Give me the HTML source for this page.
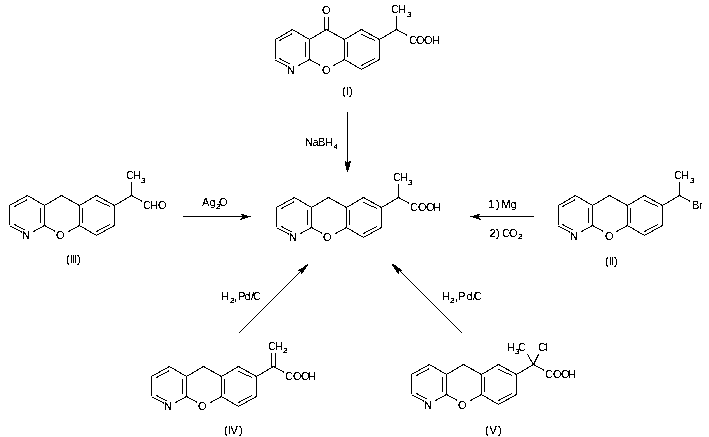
<!DOCTYPE html>
<html><head><meta charset="utf-8"><title>Reaction scheme</title><style>
html,body{margin:0;padding:0;background:#fff;width:709px;height:437px;overflow:hidden}
svg{display:block}
line{stroke:#000;stroke-width:1;shape-rendering:crispEdges}
polygon{fill:#000;stroke:none;shape-rendering:crispEdges}
text{font-family:"Liberation Sans", sans-serif;font-size:11px;fill:#000}
</style></head><body>
<svg width="709" height="437" viewBox="0 0 709 437">
<g id="bonds">
<line x1="275.50" y1="39.50" x2="292.50" y2="29.50"/>
<line x1="292.50" y1="29.50" x2="309.50" y2="39.50"/>
<line x1="309.50" y1="39.50" x2="309.50" y2="59.50"/>
<line x1="309.50" y1="59.50" x2="298.50" y2="65.50"/>
<line x1="287.50" y1="66.50" x2="275.50" y2="60.00"/>
<line x1="275.50" y1="59.00" x2="275.50" y2="39.50"/>
<line x1="279.50" y1="40.50" x2="292.50" y2="33.50"/>
<line x1="279.50" y1="58.50" x2="289.50" y2="64.00"/>
<line x1="305.50" y1="42.00" x2="305.50" y2="57.00"/>
<line x1="309.50" y1="39.50" x2="326.50" y2="29.50"/>
<line x1="326.50" y1="29.50" x2="344.50" y2="39.50"/>
<line x1="344.50" y1="39.50" x2="344.50" y2="59.50"/>
<line x1="309.50" y1="59.50" x2="320.50" y2="65.50"/>
<line x1="333.50" y1="65.50" x2="344.50" y2="59.50"/>
<line x1="344.50" y1="39.50" x2="361.50" y2="29.50"/>
<line x1="361.50" y1="29.50" x2="379.50" y2="39.50"/>
<line x1="379.50" y1="39.50" x2="379.50" y2="59.50"/>
<line x1="379.50" y1="59.50" x2="361.50" y2="69.50"/>
<line x1="361.50" y1="69.50" x2="344.50" y2="59.50"/>
<line x1="347.50" y1="42.00" x2="347.50" y2="57.00"/>
<line x1="361.50" y1="34.50" x2="375.00" y2="40.50"/>
<line x1="361.50" y1="65.50" x2="375.00" y2="58.50"/>
<line x1="324.50" y1="16.50" x2="324.50" y2="29.50"/>
<line x1="328.50" y1="16.50" x2="328.50" y2="29.50"/>
<line x1="379.50" y1="39.50" x2="396.50" y2="29.50"/>
<line x1="396.50" y1="29.50" x2="396.50" y2="15.50"/>
<line x1="396.50" y1="29.50" x2="407.50" y2="35.50"/>
<line x1="276.50" y1="207.50" x2="294.50" y2="197.50"/>
<line x1="294.50" y1="197.50" x2="311.50" y2="207.50"/>
<line x1="311.50" y1="207.50" x2="311.50" y2="227.50"/>
<line x1="311.50" y1="227.50" x2="300.50" y2="233.50"/>
<line x1="289.50" y1="234.50" x2="277.50" y2="228.00"/>
<line x1="276.50" y1="227.00" x2="276.50" y2="207.50"/>
<line x1="281.50" y1="208.50" x2="294.50" y2="201.50"/>
<line x1="281.50" y1="226.50" x2="291.50" y2="232.00"/>
<line x1="307.50" y1="210.00" x2="307.50" y2="225.00"/>
<line x1="311.50" y1="207.50" x2="328.50" y2="197.50"/>
<line x1="328.50" y1="197.50" x2="346.50" y2="207.50"/>
<line x1="346.50" y1="207.50" x2="346.50" y2="227.50"/>
<line x1="311.50" y1="227.50" x2="322.50" y2="233.50"/>
<line x1="335.50" y1="233.50" x2="346.50" y2="227.50"/>
<line x1="346.50" y1="207.50" x2="363.50" y2="197.50"/>
<line x1="363.50" y1="197.50" x2="381.50" y2="207.50"/>
<line x1="381.50" y1="207.50" x2="381.50" y2="227.50"/>
<line x1="381.50" y1="227.50" x2="363.50" y2="237.50"/>
<line x1="363.50" y1="237.50" x2="346.50" y2="227.50"/>
<line x1="349.50" y1="210.00" x2="349.50" y2="225.00"/>
<line x1="363.50" y1="202.50" x2="377.00" y2="208.50"/>
<line x1="363.50" y1="233.50" x2="377.00" y2="226.50"/>
<line x1="381.50" y1="207.50" x2="398.50" y2="197.50"/>
<line x1="398.50" y1="197.50" x2="398.50" y2="183.50"/>
<line x1="398.50" y1="197.50" x2="409.50" y2="203.50"/>
<line x1="9.50" y1="205.50" x2="27.50" y2="195.50"/>
<line x1="27.50" y1="195.50" x2="44.50" y2="205.50"/>
<line x1="44.50" y1="205.50" x2="44.50" y2="225.50"/>
<line x1="44.50" y1="225.50" x2="33.50" y2="231.50"/>
<line x1="22.50" y1="232.50" x2="10.50" y2="226.00"/>
<line x1="9.50" y1="225.00" x2="9.50" y2="205.50"/>
<line x1="14.50" y1="206.50" x2="27.50" y2="199.50"/>
<line x1="14.50" y1="224.50" x2="24.50" y2="230.00"/>
<line x1="40.50" y1="208.00" x2="40.50" y2="223.00"/>
<line x1="44.50" y1="205.50" x2="61.50" y2="195.50"/>
<line x1="61.50" y1="195.50" x2="79.50" y2="205.50"/>
<line x1="79.50" y1="205.50" x2="79.50" y2="225.50"/>
<line x1="44.50" y1="225.50" x2="55.50" y2="231.50"/>
<line x1="68.50" y1="231.50" x2="79.50" y2="225.50"/>
<line x1="79.50" y1="205.50" x2="96.50" y2="195.50"/>
<line x1="96.50" y1="195.50" x2="114.50" y2="205.50"/>
<line x1="114.50" y1="205.50" x2="114.50" y2="225.50"/>
<line x1="114.50" y1="225.50" x2="96.50" y2="235.50"/>
<line x1="96.50" y1="235.50" x2="79.50" y2="225.50"/>
<line x1="82.50" y1="208.00" x2="82.50" y2="223.00"/>
<line x1="96.50" y1="200.50" x2="110.00" y2="206.50"/>
<line x1="96.50" y1="231.50" x2="110.00" y2="224.50"/>
<line x1="114.50" y1="205.50" x2="131.50" y2="195.50"/>
<line x1="131.50" y1="195.50" x2="131.50" y2="181.50"/>
<line x1="131.50" y1="195.50" x2="142.50" y2="201.50"/>
<line x1="558.50" y1="205.50" x2="575.50" y2="195.50"/>
<line x1="575.50" y1="195.50" x2="592.50" y2="205.50"/>
<line x1="592.50" y1="205.50" x2="592.50" y2="225.50"/>
<line x1="592.50" y1="225.50" x2="581.50" y2="231.50"/>
<line x1="570.50" y1="232.50" x2="558.50" y2="226.00"/>
<line x1="558.50" y1="225.00" x2="558.50" y2="205.50"/>
<line x1="562.50" y1="206.50" x2="575.50" y2="199.50"/>
<line x1="562.50" y1="224.50" x2="572.50" y2="230.00"/>
<line x1="588.50" y1="208.00" x2="588.50" y2="223.00"/>
<line x1="592.50" y1="205.50" x2="609.50" y2="195.50"/>
<line x1="609.50" y1="195.50" x2="627.50" y2="205.50"/>
<line x1="627.50" y1="205.50" x2="627.50" y2="225.50"/>
<line x1="592.50" y1="225.50" x2="603.50" y2="231.50"/>
<line x1="616.50" y1="231.50" x2="627.50" y2="225.50"/>
<line x1="627.50" y1="205.50" x2="644.50" y2="195.50"/>
<line x1="644.50" y1="195.50" x2="662.50" y2="205.50"/>
<line x1="662.50" y1="205.50" x2="662.50" y2="225.50"/>
<line x1="662.50" y1="225.50" x2="644.50" y2="235.50"/>
<line x1="644.50" y1="235.50" x2="627.50" y2="225.50"/>
<line x1="630.50" y1="208.00" x2="630.50" y2="223.00"/>
<line x1="644.50" y1="200.50" x2="658.00" y2="206.50"/>
<line x1="644.50" y1="231.50" x2="658.00" y2="224.50"/>
<line x1="662.50" y1="205.50" x2="679.50" y2="195.50"/>
<line x1="679.50" y1="195.50" x2="679.50" y2="181.50"/>
<line x1="679.50" y1="195.50" x2="690.50" y2="201.50"/>
<line x1="151.50" y1="376.50" x2="169.50" y2="366.50"/>
<line x1="169.50" y1="366.50" x2="186.50" y2="376.50"/>
<line x1="186.50" y1="376.50" x2="186.50" y2="396.50"/>
<line x1="186.50" y1="396.50" x2="175.50" y2="402.50"/>
<line x1="164.50" y1="403.50" x2="152.50" y2="397.00"/>
<line x1="151.50" y1="396.00" x2="151.50" y2="376.50"/>
<line x1="156.50" y1="377.50" x2="169.50" y2="370.50"/>
<line x1="156.50" y1="395.50" x2="166.50" y2="401.00"/>
<line x1="182.50" y1="379.00" x2="182.50" y2="394.00"/>
<line x1="186.50" y1="376.50" x2="203.50" y2="366.50"/>
<line x1="203.50" y1="366.50" x2="221.50" y2="376.50"/>
<line x1="221.50" y1="376.50" x2="221.50" y2="396.50"/>
<line x1="186.50" y1="396.50" x2="197.50" y2="402.50"/>
<line x1="210.50" y1="402.50" x2="221.50" y2="396.50"/>
<line x1="221.50" y1="376.50" x2="238.50" y2="366.50"/>
<line x1="238.50" y1="366.50" x2="256.50" y2="376.50"/>
<line x1="256.50" y1="376.50" x2="256.50" y2="396.50"/>
<line x1="256.50" y1="396.50" x2="238.50" y2="406.50"/>
<line x1="238.50" y1="406.50" x2="221.50" y2="396.50"/>
<line x1="224.50" y1="379.00" x2="224.50" y2="394.00"/>
<line x1="238.50" y1="371.50" x2="252.00" y2="377.50"/>
<line x1="238.50" y1="402.50" x2="252.00" y2="395.50"/>
<line x1="256.50" y1="376.50" x2="273.50" y2="366.50"/>
<line x1="271.50" y1="366.50" x2="271.50" y2="352.50"/>
<line x1="275.50" y1="366.50" x2="275.50" y2="352.50"/>
<line x1="273.50" y1="366.50" x2="284.50" y2="372.50"/>
<line x1="411.50" y1="374.50" x2="429.50" y2="364.50"/>
<line x1="429.50" y1="364.50" x2="446.50" y2="374.50"/>
<line x1="446.50" y1="374.50" x2="446.50" y2="394.50"/>
<line x1="446.50" y1="394.50" x2="435.50" y2="400.50"/>
<line x1="424.50" y1="401.50" x2="412.50" y2="395.00"/>
<line x1="411.50" y1="394.00" x2="411.50" y2="374.50"/>
<line x1="416.50" y1="375.50" x2="429.50" y2="368.50"/>
<line x1="416.50" y1="393.50" x2="426.50" y2="399.00"/>
<line x1="442.50" y1="377.00" x2="442.50" y2="392.00"/>
<line x1="446.50" y1="374.50" x2="463.50" y2="364.50"/>
<line x1="463.50" y1="364.50" x2="481.50" y2="374.50"/>
<line x1="481.50" y1="374.50" x2="481.50" y2="394.50"/>
<line x1="446.50" y1="394.50" x2="457.50" y2="400.50"/>
<line x1="470.50" y1="400.50" x2="481.50" y2="394.50"/>
<line x1="481.50" y1="374.50" x2="498.50" y2="364.50"/>
<line x1="498.50" y1="364.50" x2="516.50" y2="374.50"/>
<line x1="516.50" y1="374.50" x2="516.50" y2="394.50"/>
<line x1="516.50" y1="394.50" x2="498.50" y2="404.50"/>
<line x1="498.50" y1="404.50" x2="481.50" y2="394.50"/>
<line x1="484.50" y1="377.00" x2="484.50" y2="392.00"/>
<line x1="498.50" y1="369.50" x2="512.00" y2="375.50"/>
<line x1="498.50" y1="400.50" x2="512.00" y2="393.50"/>
<line x1="516.50" y1="374.50" x2="533.50" y2="364.50"/>
<line x1="533.50" y1="364.50" x2="527.50" y2="354.50"/>
<line x1="533.50" y1="364.50" x2="538.50" y2="354.50"/>
<line x1="533.50" y1="364.50" x2="544.50" y2="370.50"/>
<line x1="347.50" y1="112.00" x2="347.50" y2="168.50"/>
<polygon points="345.00,161.00 347.50,163.00 350.00,161.00 351.00,161.50 350.00,164.00 349.50,167.00 348.00,172.00 347.00,172.00 346.00,167.00 345.00,164.00"/>
<line x1="183.00" y1="216.50" x2="247.00" y2="216.50"/>
<polygon points="240.00,213.50 251.00,216.50 240.00,220.00 242.50,216.50"/>
<line x1="473.00" y1="216.50" x2="534.00" y2="216.50"/>
<polygon points="481.00,213.50 470.00,216.50 481.00,220.00 478.50,216.50"/>
<line x1="239.00" y1="333.00" x2="305.00" y2="267.00"/>
<polygon points="308.00,264.00 305.00,265.00 302.00,268.00 299.00,269.00 298.00,270.80 300.00,271.00 300.80,271.20 301.00,274.00 302.20,273.80 304.50,270.00 306.80,267.00 308.00,265.00"/>
<line x1="462.00" y1="333.00" x2="395.00" y2="266.00"/>
<polygon points="392.00,264.00 395.00,265.00 398.00,268.00 401.00,269.00 402.00,270.80 400.00,271.00 399.20,271.20 399.00,274.00 397.80,273.80 395.50,270.00 393.20,267.00 392.00,265.00"/>
</g>
<defs><filter id="bin" x="0" y="0" width="709" height="437" filterUnits="userSpaceOnUse"><feComponentTransfer><feFuncA type="discrete" tableValues="0 0 1 1 1"/></feComponentTransfer></filter><filter id="bin2" x="0" y="0" width="709" height="437" filterUnits="userSpaceOnUse"><feComponentTransfer><feFuncA type="discrete" tableValues="0 1 1 1"/></feComponentTransfer></filter></defs>
<g id="labels" filter="url(#bin)">
<text><tspan x="322.12" y="14">O</tspan></text>
<text><tspan x="287.00" y="74">N</tspan></text>
<text><tspan x="322.12" y="74">O</tspan></text>
<text><tspan x="391.00 398.00" y="13">CH</tspan></text>
<text><tspan x="409.12 416.12 424.12 432.00" y="44">COOH</tspan></text>
<text><tspan x="342.12 346.00 349.00" y="95">(I)</tspan></text>
<text><tspan x="305.00 312.38 318.00 325.00" y="146">NaBH</tspan></text>
<text><tspan x="289.00" y="241">N</tspan></text>
<text><tspan x="323.12" y="241">O</tspan></text>
<text><tspan x="393.00 400.00" y="181">CH</tspan></text>
<text><tspan x="410.00 418.00 426.12 433.00" y="211">COOH</tspan></text>
<text><tspan x="22.00" y="239">N</tspan></text>
<text><tspan x="56.12" y="239">O</tspan></text>
<text><tspan x="126.00 133.00" y="179">CH</tspan></text>
<text><tspan x="143.00 150.00 158.12" y="209">CHO</tspan></text>
<text><tspan x="66.12 70.00 72.00 74.00 77.00" y="263">(III)</tspan></text>
<text><tspan x="202.00 209.38" y="206">Ag</tspan><tspan x="219.12" y="206">O</tspan></text>
<text><tspan x="488.12 496.00 499.00 501.62 510.38" y="208">1) Mg</tspan></text>
<text><tspan x="489.62 496.00 499.00 502.00 509.12" y="237">2) CO</tspan></text>
<text><tspan x="570.00" y="240">N</tspan></text>
<text><tspan x="605.12" y="240">O</tspan></text>
<text><tspan x="674.00 681.00" y="179">CH</tspan></text>
<text><tspan x="692.00 699.12" y="209">Br</tspan></text>
<text><tspan x="605.12 609.00 611.00 614.00" y="265">(II)</tspan></text>
<text><tspan x="221.00" y="300">H</tspan><tspan x="236.00 238.00 244.38 250.88 253.12" y="300"> Pd/C</tspan></text>
<text><tspan x="442.00" y="300">H</tspan><tspan x="457.00 458.00 466.38 472.88 474.12" y="300"> Pd/C</tspan></text>
<text><tspan x="164.00" y="410">N</tspan></text>
<text><tspan x="198.12" y="410">O</tspan></text>
<text><tspan x="268.00 275.00" y="350">CH</tspan></text>
<text><tspan x="285.00 293.00 301.12 308.00" y="380">COOH</tspan></text>
<text><tspan x="224.12 228.00 230.62 239.00" y="434">(IV)</tspan></text>
<text><tspan x="424.00" y="409">N</tspan></text>
<text><tspan x="458.12" y="409">O</tspan></text>
<text><tspan x="507.00" y="351">H</tspan><tspan x="518.00" y="351">C</tspan></text>
<text><tspan x="538.00 545.12" y="351">Cl</tspan></text>
<text><tspan x="545.00 553.00 561.12 568.00" y="378">COOH</tspan></text>
<text><tspan x="485.12 489.62 498.00" y="434">(V)</tspan></text>
</g>
<g id="subscripts" filter="url(#bin2)">
<text x="407.00" y="17" style="font-size:8px">3</text>
<text x="334.00" y="149" style="font-size:6.5px">4</text>
<text x="408.00" y="185" style="font-size:8px">3</text>
<text x="141.00" y="183" style="font-size:8px">3</text>
<text x="216.00" y="209" style="font-size:8px">2</text>
<text x="518.00" y="239" style="font-size:8px">2</text>
<text x="690.00" y="183" style="font-size:8px">3</text>
<text x="230.00" y="303" style="font-size:8px">2</text>
<text x="233.88" y="300" style="font-size:11px">,</text>
<text x="450.00" y="303" style="font-size:8px">2</text>
<text x="454.88" y="300" style="font-size:11px">,</text>
<text x="283.00" y="353" style="font-size:8px">2</text>
<text x="515.00" y="354" style="font-size:8px">3</text>
</g>
</svg>
</body></html>
